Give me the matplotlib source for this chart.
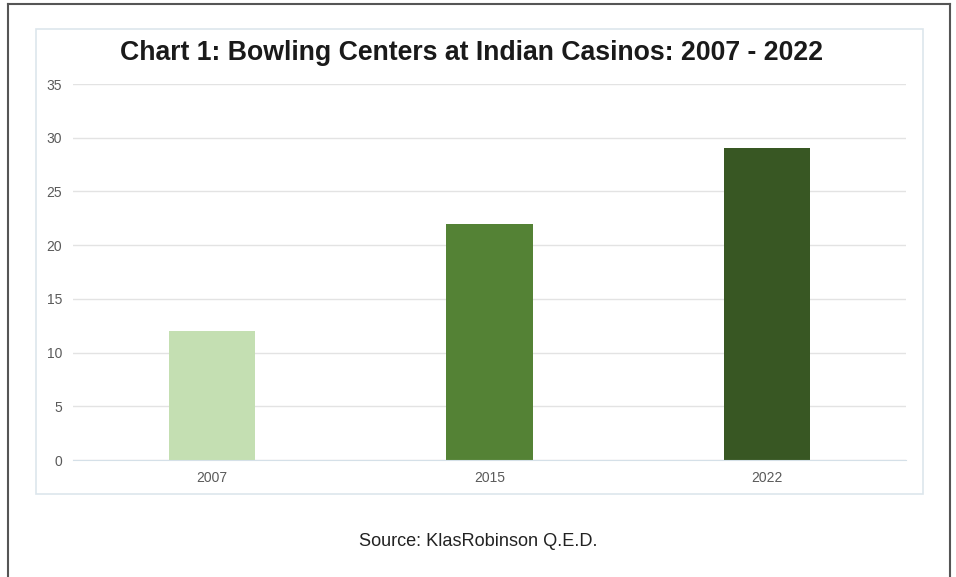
import matplotlib.pyplot as plt
from matplotlib.patches import Rectangle

years = ["2007", "2015", "2022"]
centers = [12, 22, 29]
colors = ["#c4dfb2", "#548235", "#385723"]
yticks = [0, 5, 10, 15, 20, 25, 30, 35]

plt.rcParams['font.family'] = ['Liberation Sans', 'DejaVu Sans']

fig = plt.figure(figsize=(9.56, 5.77), dpi=100)
W, H = 956, 577

# outer frame (open at the bottom)
fig.add_artist(plt.Line2D([8 / W, 8 / W], [0, 1 - 4 / H], color="#555555", lw=1.5))
fig.add_artist(plt.Line2D([950 / W, 950 / W], [0, 1 - 4 / H], color="#555555", lw=1.5))
fig.add_artist(plt.Line2D([8 / W, 950 / W], [1 - 4 / H, 1 - 4 / H], color="#555555", lw=1.5))

# inner chart box
fig.add_artist(Rectangle((36 / W, 1 - 494 / H), (923 - 36) / W, (494 - 29) / H,
                         transform=fig.transFigure, fill=False, ec="#dde6ec", lw=1.2))

ax = fig.add_axes([73 / W, 1 - 460 / H, (906 - 73) / W, (460 - 84) / H])
x = range(len(years))
ax.bar(x, centers, width=0.31, color=colors, zorder=2)
ax.set_xlim(-0.5, 2.5)
ax.set_ylim(0, 35)
ax.set_yticks(yticks)
ax.set_xticks(list(x))
ax.set_xticklabels(years)
ax.grid(axis="y", color="#e3e3e3", lw=1, zorder=0)
for s in ["top", "right", "left"]:
    ax.spines[s].set_visible(False)
ax.spines["bottom"].set_color("#d5e0e8")
ax.tick_params(length=0, labelsize=10, colors="#5a5a5a")
ax.tick_params(axis="y", pad=8)
ax.tick_params(axis="x", pad=8)

fig.text(472 / W, 1 - 53 / H, "Chart 1: Bowling Centers at Indian Casinos: 2007 - 2022",
         ha="center", va="center", fontsize=19.2, fontweight="bold", color="#1a1a1a")
fig.text(478 / W, 1 - 542 / H, "Source: KlasRobinson Q.E.D.",
         ha="center", va="center", fontsize=13.1, color="#222222")

fig.savefig("out.png", dpi=100)
